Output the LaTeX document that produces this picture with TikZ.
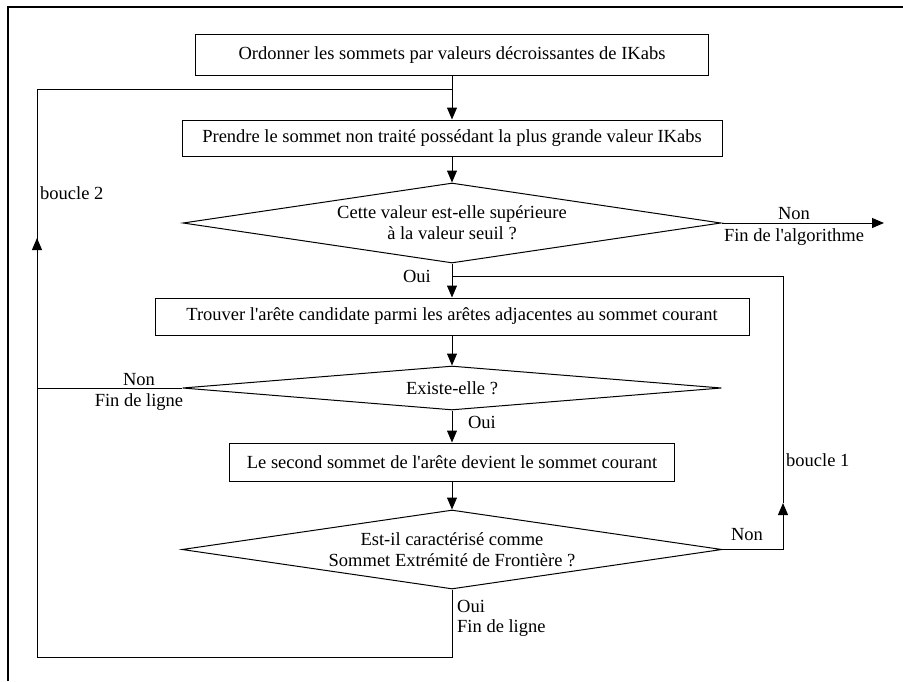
\documentclass[tikz,border=0pt]{standalone}
\usepackage{fontspec}
\setmainfont{Liberation Serif}
\usetikzlibrary{shapes.geometric,arrows.meta}
\begin{document}
\begin{tikzpicture}[x=1pt,y=-1pt,
  every node/.style={font=\fontsize{18.5}{21}\selectfont},
  conn/.style={line width=1pt},
  arr/.style={line width=1pt,-{Triangle[length=12pt,width=10pt]}},
  procbox/.style={draw,line width=1pt,rectangle,inner sep=0pt},
  decision/.style={draw,line width=1pt,diamond,inner sep=0pt,aspect=6.7,align=center},
  lbl/.style={inner sep=0pt,align=center},
  lbll/.style={inner sep=0pt,anchor=west,align=left}]
\useasboundingbox (0,0) rectangle (903,681);
% frame (top and left edges visible)
\draw[line width=2pt] (8,681) -- (8,7) -- (903,7);

\node[procbox,minimum width=513,minimum height=41] (b1) at (452,55) {Ordonner les sommets par valeurs décroissantes de IKabs};
\node[procbox,minimum width=540,minimum height=36] (b2) at (452,138) {Prendre le sommet non traité possédant la plus grande valeur IKabs};
\node[decision,minimum width=538,minimum height=80] (d1) at (452,223) {Cette valeur est-elle supérieure\\à la valeur seuil ?};
\node[procbox,minimum width=594,minimum height=37] (b3) at (452,316.5) {Trouver l\textquotesingle arête candidate parmi les arêtes adjacentes au sommet courant};
\node[decision,minimum width=539,minimum height=44,aspect=12] (d2) at (452,388) {Existe-elle ?};
\node[procbox,minimum width=445,minimum height=38] (b4) at (452,462) {Le second sommet de l\textquotesingle arête devient le sommet courant};
\node[decision,minimum width=540,minimum height=79] (d3) at (452,549.5) {Est-il caractérisé comme\\Sommet Extrémité de Frontière ?};

% coordinates
\coordinate (endA) at (884,223);
\coordinate (j2) at (452,89);
\coordinate (l2top) at (37,89);
\coordinate (l2tip) at (37,238);
\coordinate (l2bot) at (37,657);
\coordinate (d3low) at (452,657);
\coordinate (d2left) at (37,388);
\coordinate (j1) at (452,276);
\coordinate (l1top) at (783,276);
\coordinate (l1tip) at (783,503);
\coordinate (l1bot) at (783,549.5);

% main flow
\draw[arr] (b1.south) -- (b2.north);
\draw[arr] (b2.south) -- (d1.north);
\draw[arr] (d1.south) -- (b3.north);
\draw[arr] (b3.south) -- (d2.north);
\draw[arr] (d2.south) -- (b4.north);
\draw[arr] (b4.south) -- (d3.north);
\draw[arr] (d1.east) -- (endA);

% loop 1
\draw[conn] (d3.east) -- (l1bot);
\draw[arr] (l1bot) -- (l1tip);
\draw[conn] (l1tip) -- (l1top) -- (j1);

% loop 2
\draw[conn] (d3.south) -- (d3low) -- (l2bot) -- (l2tip);
\draw[arr] (l2bot) -- (l2tip);
\draw[conn] (l2tip) -- (l2top) -- (j2);
\draw[conn] (d2.west) -- (d2left);

% labels
\node[lbl] (nonA) at (794,214) {Non};
\node[lbl] (finA) at (794,237) {Fin de l\textquotesingle algorithme};
\node[lbl] (ouiA) at (417,276) {Oui};
\node[lbl] (nonB) at (139,380) {Non};
\node[lbl] (finB) at (139,402) {Fin de ligne};
\node[lbl] (ouiB) at (482,422) {Oui};
\node[lbl] (nonC) at (747,535) {Non};
\node[lbll] (b1lbl) at (786,460) {boucle 1};
\node[lbll] (b2lbl) at (40,193) {boucle 2};
\node[lbll] (ouiC) at (457,606) {Oui};
\node[lbll] (finC) at (457,628) {Fin de ligne};
\end{tikzpicture}
\end{document}
